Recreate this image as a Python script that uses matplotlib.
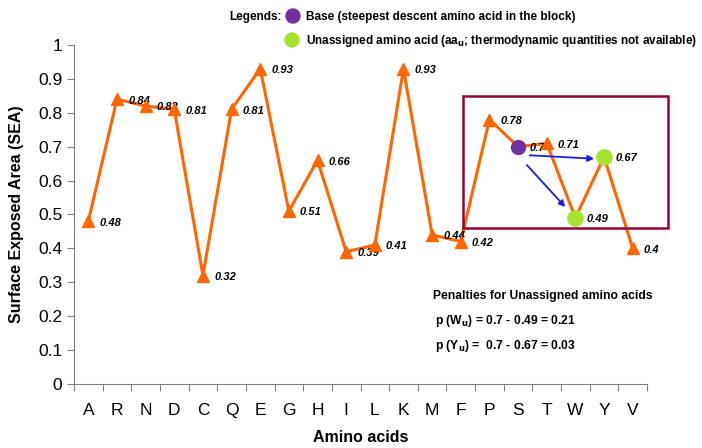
import matplotlib.pyplot as plt
import matplotlib.patches as patches

plt.rcParams['font.family'] = ['Liberation Sans', 'DejaVu Sans']

# amino acids and their surface exposed area
amino = ['A', 'R', 'N', 'D', 'C', 'Q', 'E', 'G', 'H', 'I',
         'L', 'K', 'M', 'F', 'P', 'S', 'T', 'W', 'Y', 'V']
sea = [0.48, 0.84, 0.82, 0.81, 0.32, 0.81, 0.93, 0.51, 0.66, 0.39,
       0.41, 0.93, 0.44, 0.42, 0.78, 0.70, 0.71, 0.49, 0.67, 0.40]
sea_labels = ['0.48', '0.84', '0.82', '0.81', '0.32', '0.81', '0.93', '0.51', '0.66', '0.39',
              '0.41', '0.93', '0.44', '0.42', '0.78', '0.7', '0.71', '0.49', '0.67', '0.4']
base = ['S']
unassigned = ['W', 'Y']

orange = '#FF6600'
purple = '#7030A0'
green = '#A6E22E'

fig = plt.figure(figsize=(7.02, 4.48), dpi=100)
ax = fig.add_axes([0.1054, 0.1429, 0.8163, 0.7567])

x = list(range(len(amino)))
ax.plot(x, sea, color=orange, lw=2.2, zorder=2)
for i, a in enumerate(amino):
    if a in base:
        ax.plot(i, sea[i], 'o', color=purple, ms=10, zorder=4)
    elif a in unassigned:
        ax.plot(i, sea[i], 'o', color=green, ms=11, zorder=4)
    else:
        ax.plot(i, sea[i], '^', color=orange, ms=8.5, zorder=3)
    ax.annotate(sea_labels[i], (i, sea[i]), xytext=(8, -1), textcoords='offset points',
                fontsize=8, fontstyle='italic', fontweight='bold', va='center', ha='left')

# block box around P..Y
rect = patches.Rectangle((13.08, 0.46), 7.15, 0.39, fill=False, edgecolor='#990033',
                         lw=1.8, clip_on=False, zorder=5)
ax.add_patch(rect)

# penalty arrows from base
ax.annotate('', xy=(17.75, 0.664), xytext=(15.31, 0.675),
            arrowprops=dict(arrowstyle='-|>', color='#1A1AEE', lw=1.3, mutation_scale=9))
ax.annotate('', xy=(16.71, 0.516), xytext=(15.24, 0.652),
            arrowprops=dict(arrowstyle='-|>', color='#1A1AEE', lw=1.3, mutation_scale=9))

ax.set_xlim(-0.5, len(amino) - 0.5)
ax.set_ylim(0, 1)
ax.set_yticks([0, 0.1, 0.2, 0.3, 0.4, 0.5, 0.6, 0.7, 0.8, 0.9, 1])
ax.set_yticklabels(['0', '0.1', '0.2', '0.3', '0.4', '0.5', '0.6', '0.7', '0.8', '0.9', '1'])
ax.set_xticks([i - 0.5 for i in range(len(amino) + 1)])
ax.set_xticklabels([])
ax.set_xticks(x, minor=True)
ax.set_xticklabels(amino, minor=True)
ax.tick_params(axis='x', which='minor', length=0, pad=14, labelsize=12.5)
ax.tick_params(axis='x', which='major', length=5, color='#808080')
ax.tick_params(axis='y', length=5, color='#808080', labelsize=12.5)
ax.spines['top'].set_visible(False)
ax.spines['right'].set_visible(False)
ax.spines['left'].set_color('#808080')
ax.spines['bottom'].set_color('#808080')

ax.set_xlabel('Amino acids', fontsize=11.5, fontweight='bold', labelpad=8)
ax.set_ylabel('Surface Exposed Area (SEA)', fontsize=11.5, fontweight='bold', labelpad=10)

# legend header
fig.text(282 / 702, 1 - 17 / 448, 'Legends:', fontsize=8.5,
         fontweight='bold', ha='right', va='center')
fig.patches.append(patches.Circle((293, 448 - 16), 7, color=purple, transform=None, figure=fig))
fig.patches.append(patches.Circle((292, 448 - 40), 7, color=green, transform=None, figure=fig))
fig.text(306 / 702, 1 - 17 / 448, 'Base (steepest descent amino acid in the block)',
         fontsize=8.5, fontweight='bold', ha='left', va='center')
fig.text(306 / 702, 1 - 41 / 448,
         'Unassigned amino acid (aa$_\\mathbf{u}$; thermodynamic quantities not available)',
         fontsize=8.5, fontweight='bold', ha='left', va='center')

# penalties
fig.text(433 / 702, 1 - 296 / 448, 'Penalties for Unassigned amino acids',
         fontsize=8.7, fontweight='bold', ha='left', va='center')
fig.text(435 / 702, 1 - 321 / 448, 'p (W$_\\mathbf{u}$) = 0.7 - 0.49 = 0.21',
         fontsize=8.7, fontweight='bold', ha='left', va='center')
fig.text(435 / 702, 1 - 346 / 448, 'p (Y$_\\mathbf{u}$) =  0.7 - 0.67 = 0.03',
         fontsize=8.7, fontweight='bold', ha='left', va='center')

fig.savefig('out.png', dpi=100)
